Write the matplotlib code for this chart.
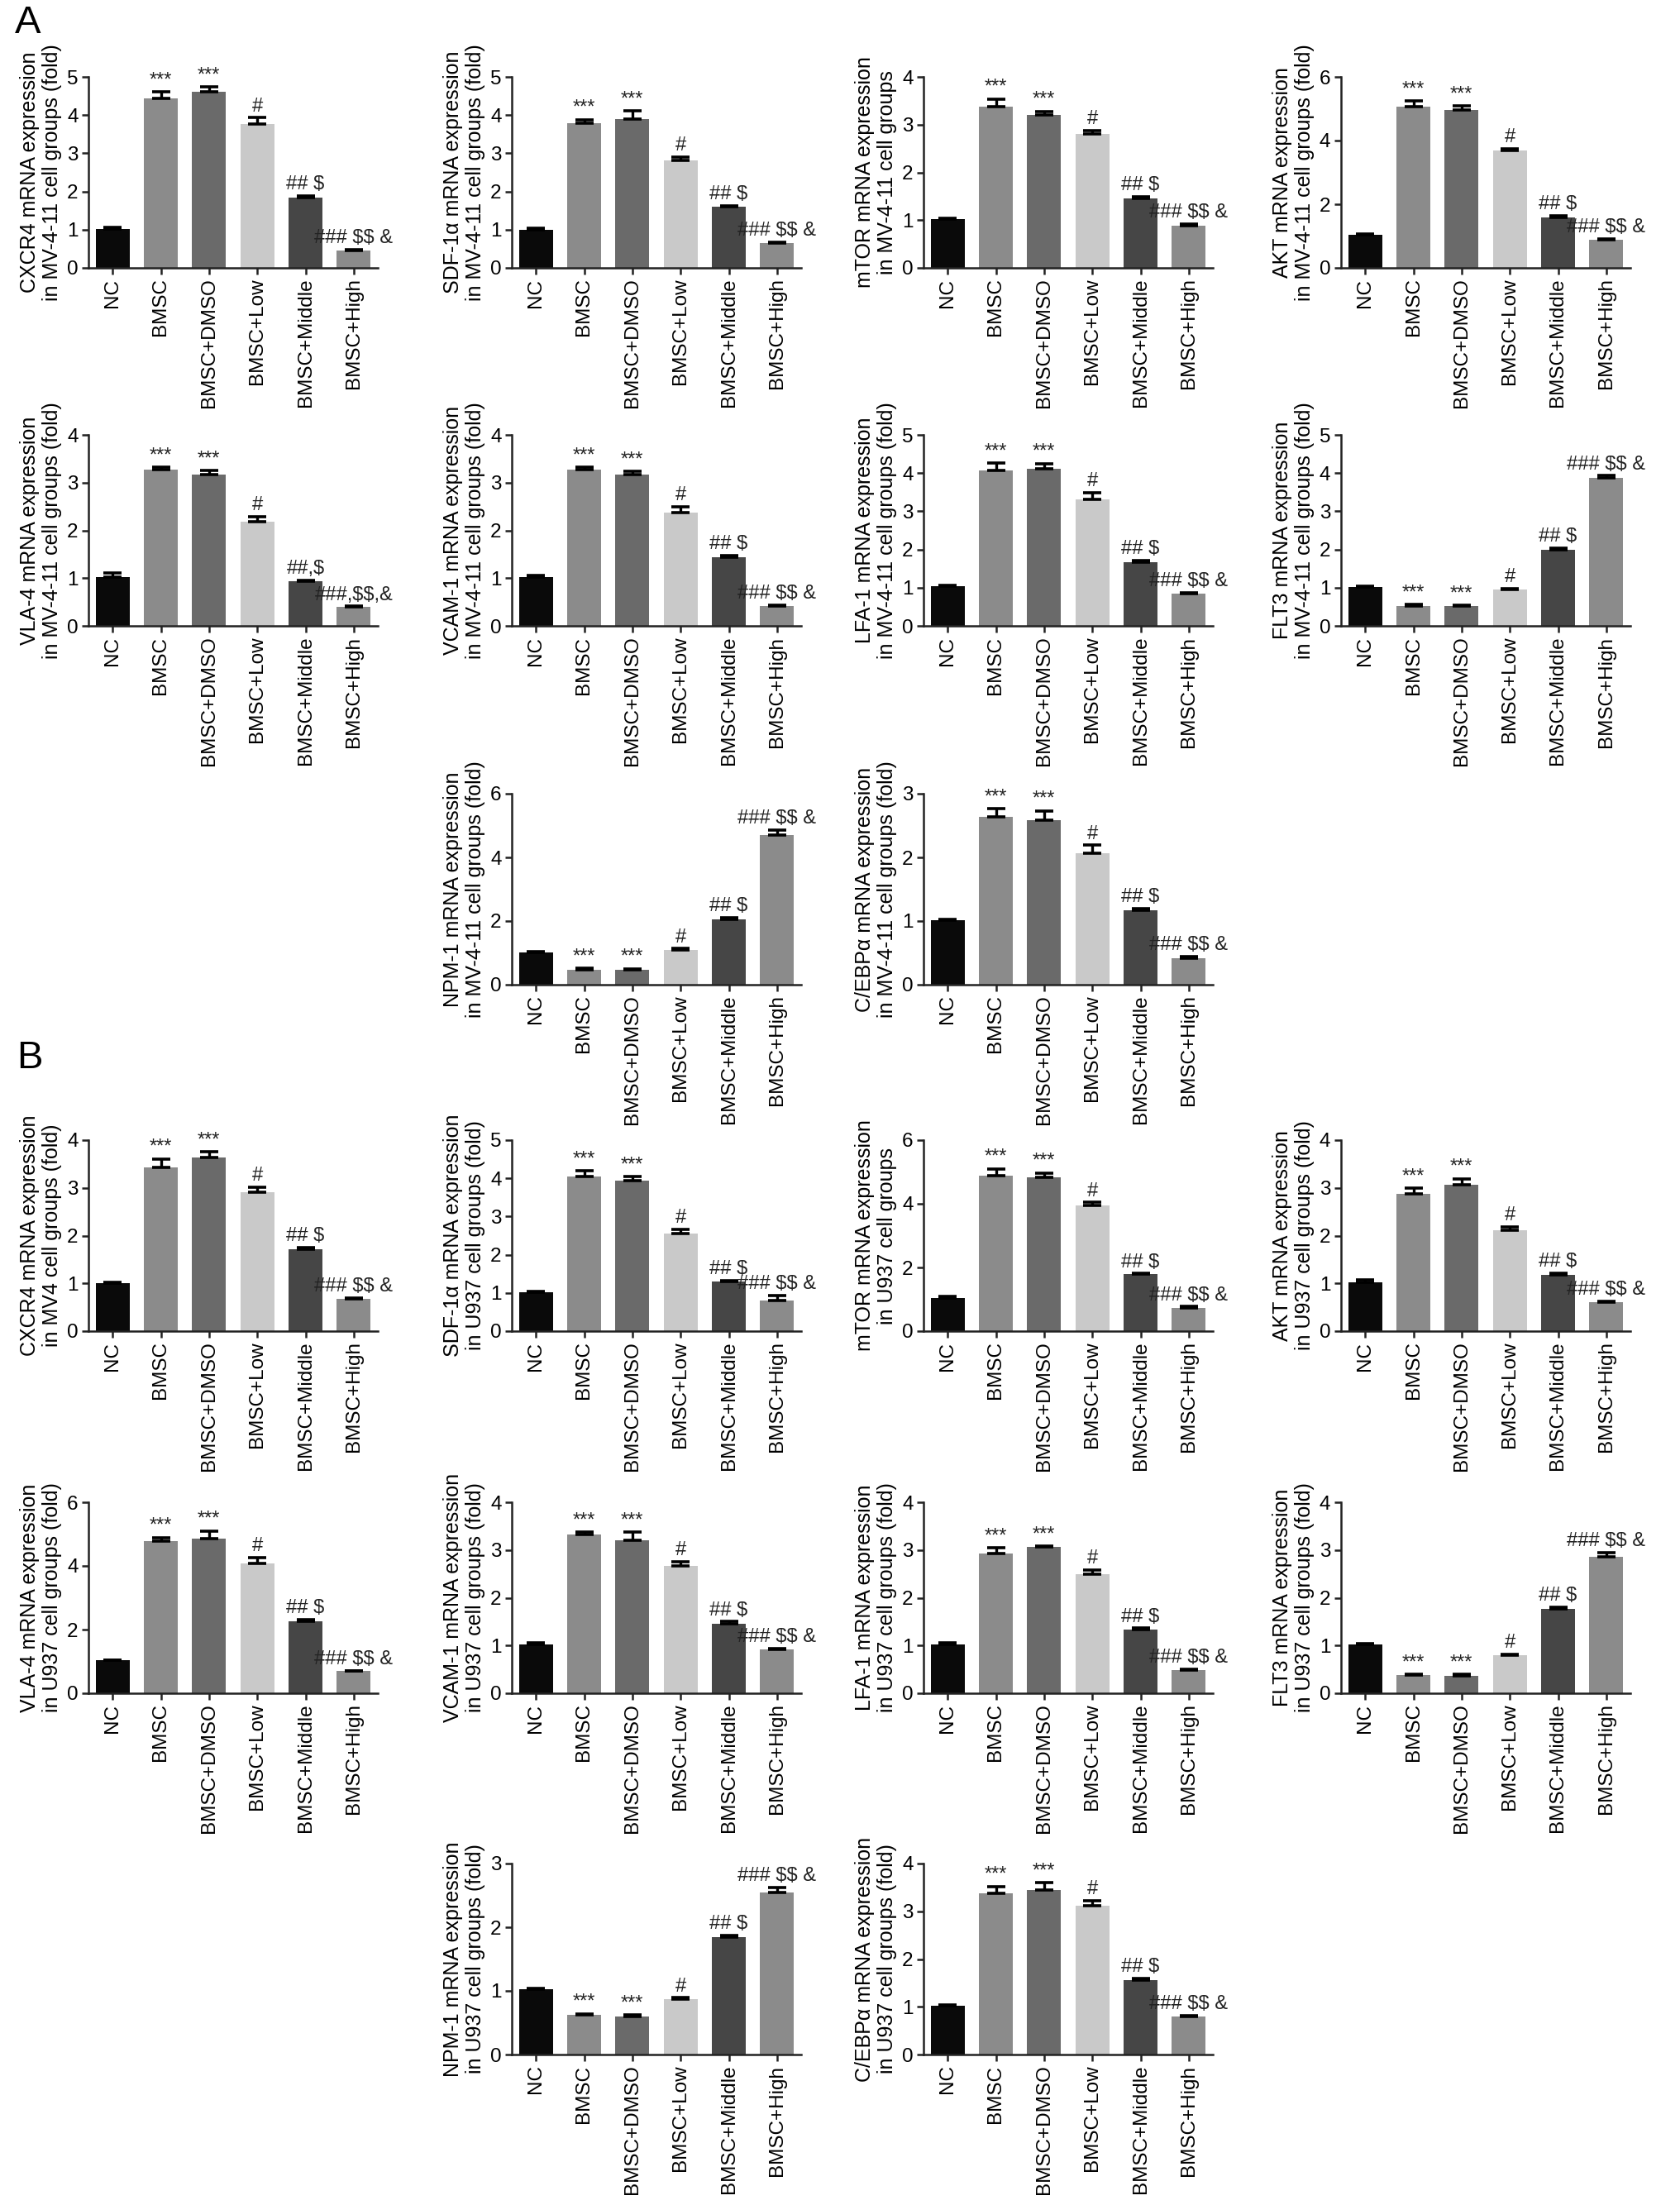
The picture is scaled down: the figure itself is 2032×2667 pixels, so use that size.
import numpy as np
import matplotlib
matplotlib.use("Agg")
from matplotlib import pyplot as plt

plt.rcParams['font.family'] = ['Liberation Sans', 'DejaVu Sans']

# groups and bar colours
groups = ['NC', 'BMSC', 'BMSC+DMSO', 'BMSC+Low', 'BMSC+Middle', 'BMSC+High']
bar_colors = ['#0a0a0a', '#8b8b8b', '#6a6a6a', '#c9c9c9', '#464646', '#8b8b8b']

# significance marks above each bar
marks = ['', '***', '***', '#', '## $', '### $$ &']
marks_vla = ['', '***', '***', '#', '##,$', '###,$$,&']

# ---- A: MV-4-11 cells ----
cxcr4_a = [1.02, 4.44, 4.61, 3.76, 1.84, 0.45]
cxcr4_a_err = [0.05, 0.16, 0.13, 0.17, 0.05, 0.03]
sdf_a = [1.0, 3.78, 3.9, 2.82, 1.6, 0.65]
sdf_a_err = [0.04, 0.1, 0.21, 0.08, 0.03, 0.02]
mtor_a = [1.02, 3.38, 3.21, 2.8, 1.46, 0.89]
mtor_a_err = [0.02, 0.16, 0.07, 0.07, 0.03, 0.03]
akt_a = [1.03, 5.07, 4.96, 3.69, 1.58, 0.88]
akt_a_err = [0.03, 0.17, 0.13, 0.05, 0.05, 0.03]
vla_a = [1.02, 3.27, 3.17, 2.18, 0.93, 0.39]
vla_a_err = [0.09, 0.05, 0.08, 0.11, 0.03, 0.02]
vcam_a = [1.02, 3.27, 3.17, 2.38, 1.44, 0.41]
vcam_a_err = [0.04, 0.05, 0.06, 0.12, 0.03, 0.02]
lfa_a = [1.04, 4.08, 4.11, 3.31, 1.67, 0.84]
lfa_a_err = [0.03, 0.18, 0.14, 0.18, 0.05, 0.03]
flt3_a = [1.02, 0.53, 0.51, 0.95, 2.0, 3.88]
flt3_a_err = [0.02, 0.03, 0.03, 0.03, 0.03, 0.05]
npm_a = [1.02, 0.48, 0.47, 1.08, 2.04, 4.7]
npm_a_err = [0.02, 0.03, 0.03, 0.05, 0.07, 0.15]
cebp_a = [1.01, 2.63, 2.58, 2.07, 1.17, 0.42]
cebp_a_err = [0.02, 0.13, 0.15, 0.12, 0.03, 0.02]

# ---- B: MV4 / U937 cells ----
cxcr4_b = [1.0, 3.43, 3.64, 2.91, 1.72, 0.68]
cxcr4_b_err = [0.02, 0.18, 0.12, 0.1, 0.03, 0.02]
sdf_b = [1.01, 4.05, 3.95, 2.56, 1.3, 0.8]
sdf_b_err = [0.02, 0.15, 0.1, 0.1, 0.03, 0.14]
mtor_b = [1.04, 4.88, 4.83, 3.95, 1.78, 0.74]
mtor_b_err = [0.04, 0.22, 0.14, 0.09, 0.03, 0.03]
akt_b = [1.02, 2.87, 3.07, 2.11, 1.18, 0.6]
akt_b_err = [0.05, 0.12, 0.12, 0.07, 0.03, 0.02]
vla_b = [1.03, 4.77, 4.85, 4.09, 2.27, 0.69]
vla_b_err = [0.02, 0.12, 0.25, 0.17, 0.05, 0.02]
vcam_b = [1.02, 3.32, 3.21, 2.67, 1.45, 0.92]
vcam_b_err = [0.03, 0.05, 0.16, 0.08, 0.05, 0.02]
lfa_b = [1.02, 2.92, 3.06, 2.5, 1.34, 0.48]
lfa_b_err = [0.03, 0.13, 0.02, 0.08, 0.02, 0.02]
flt3_b = [1.02, 0.38, 0.37, 0.8, 1.77, 2.86]
flt3_b_err = [0.02, 0.02, 0.02, 0.02, 0.03, 0.08]
npm_b = [1.02, 0.62, 0.6, 0.87, 1.85, 2.55]
npm_b_err = [0.02, 0.02, 0.02, 0.02, 0.02, 0.07]
cebp_b = [1.02, 3.38, 3.45, 3.12, 1.56, 0.79]
cebp_b_err = [0.02, 0.14, 0.15, 0.1, 0.03, 0.02]

W, H = 2032, 2667
fig = plt.figure(figsize=(W / 100, H / 100), dpi=100)

col_left = [107, 619, 1117, 1622]
ax_w, ax_h = 350, 231
row_bottom = [324, 757, 1191, 1610, 2048, 2485]


def make_axes(row, col):
    return fig.add_axes([col_left[col] / W, 1 - row_bottom[row] / H, ax_w / W, ax_h / H])


def draw_panel(ax, vals, errs, ymax, ylabel, ann):
    x = np.arange(len(groups))
    ax.bar(x, vals, width=0.7, color=bar_colors, zorder=2)
    ax.errorbar(x, vals, yerr=[np.zeros(len(vals)), errs], fmt='none', ecolor='black',
                elinewidth=2.4, capsize=8, capthick=2.6, zorder=3)
    for xi, v, e, t in zip(x, vals, errs, ann):
        if t:
            ax.annotate(t, (xi, v + e), xytext=(0, 2), textcoords='offset points',
                        ha='center', va='bottom', fontsize=17, color='#222222',
                        annotation_clip=False, parse_math=False)
    ax.set_xlim(-0.5, 5.5)
    ax.set_ylim(0, ymax)
    step = 2 if ymax == 6 else 1
    ax.set_yticks(np.arange(0, ymax + 0.1, step))
    ax.set_xticks(x)
    ax.set_xticklabels(groups, rotation=90, fontsize=17.5)
    ax.tick_params(axis='y', labelsize=17.5)
    ax.tick_params(length=6, width=1.8, pad=3, color='#222222')
    for s in ['top', 'right']:
        ax.spines[s].set_visible(False)
    for s in ['left', 'bottom']:
        ax.spines[s].set_linewidth(1.8)
        ax.spines[s].set_color('#222222')
    ax.set_ylabel(ylabel, fontsize=18, labelpad=4, linespacing=1.15)


mv = 'in MV-4-11 cell groups'
u9 = 'in U937 cell groups'

# A panels
draw_panel(make_axes(0, 0), cxcr4_a, cxcr4_a_err, 5, 'CXCR4 mRNA expression\n' + mv + ' (fold)', marks)
draw_panel(make_axes(0, 1), sdf_a, sdf_a_err, 5, 'SDF-1α mRNA expression\n' + mv + ' (fold)', marks)
draw_panel(make_axes(0, 2), mtor_a, mtor_a_err, 4, 'mTOR mRNA expression\n' + mv, marks)
draw_panel(make_axes(0, 3), akt_a, akt_a_err, 6, 'AKT mRNA expression\n' + mv + ' (fold)', marks)
draw_panel(make_axes(1, 0), vla_a, vla_a_err, 4, 'VLA-4 mRNA expression\n' + mv + ' (fold)', marks_vla)
draw_panel(make_axes(1, 1), vcam_a, vcam_a_err, 4, 'VCAM-1 mRNA expression\n' + mv + ' (fold)', marks)
draw_panel(make_axes(1, 2), lfa_a, lfa_a_err, 5, 'LFA-1 mRNA expression\n' + mv + ' (fold)', marks)
draw_panel(make_axes(1, 3), flt3_a, flt3_a_err, 5, 'FLT3 mRNA expression\n' + mv + ' (fold)', marks)
draw_panel(make_axes(2, 1), npm_a, npm_a_err, 6, 'NPM-1 mRNA expression\n' + mv + ' (fold)', marks)
draw_panel(make_axes(2, 2), cebp_a, cebp_a_err, 3, 'C/EBPα mRNA expression\n' + mv + ' (fold)', marks)

# B panels
draw_panel(make_axes(3, 0), cxcr4_b, cxcr4_b_err, 4, 'CXCR4 mRNA expression\nin MV4 cell groups (fold)', marks)
draw_panel(make_axes(3, 1), sdf_b, sdf_b_err, 5, 'SDF-1α mRNA expression\n' + u9 + ' (fold)', marks)
draw_panel(make_axes(3, 2), mtor_b, mtor_b_err, 6, 'mTOR mRNA expression\n' + u9, marks)
draw_panel(make_axes(3, 3), akt_b, akt_b_err, 4, 'AKT mRNA expression\n' + u9 + ' (fold)', marks)
draw_panel(make_axes(4, 0), vla_b, vla_b_err, 6, 'VLA-4 mRNA expression\n' + u9 + ' (fold)', marks)
draw_panel(make_axes(4, 1), vcam_b, vcam_b_err, 4, 'VCAM-1 mRNA expression\n' + u9 + ' (fold)', marks)
draw_panel(make_axes(4, 2), lfa_b, lfa_b_err, 4, 'LFA-1 mRNA expression\n' + u9 + ' (fold)', marks)
draw_panel(make_axes(4, 3), flt3_b, flt3_b_err, 4, 'FLT3 mRNA expression\n' + u9 + ' (fold)', marks)
draw_panel(make_axes(5, 1), npm_b, npm_b_err, 3, 'NPM-1 mRNA expression\n' + u9 + ' (fold)', marks)
draw_panel(make_axes(5, 2), cebp_b, cebp_b_err, 4, 'C/EBPα mRNA expression\n' + u9 + ' (fold)', marks)

fig.text(18 / W, 1 - 6 / H, 'A', fontsize=34, va='top', ha='left')
fig.text(20 / W, 1 - 1258 / H, 'B', fontsize=34, va='top', ha='left')

fig.savefig('out.png', dpi=100, facecolor='white')
